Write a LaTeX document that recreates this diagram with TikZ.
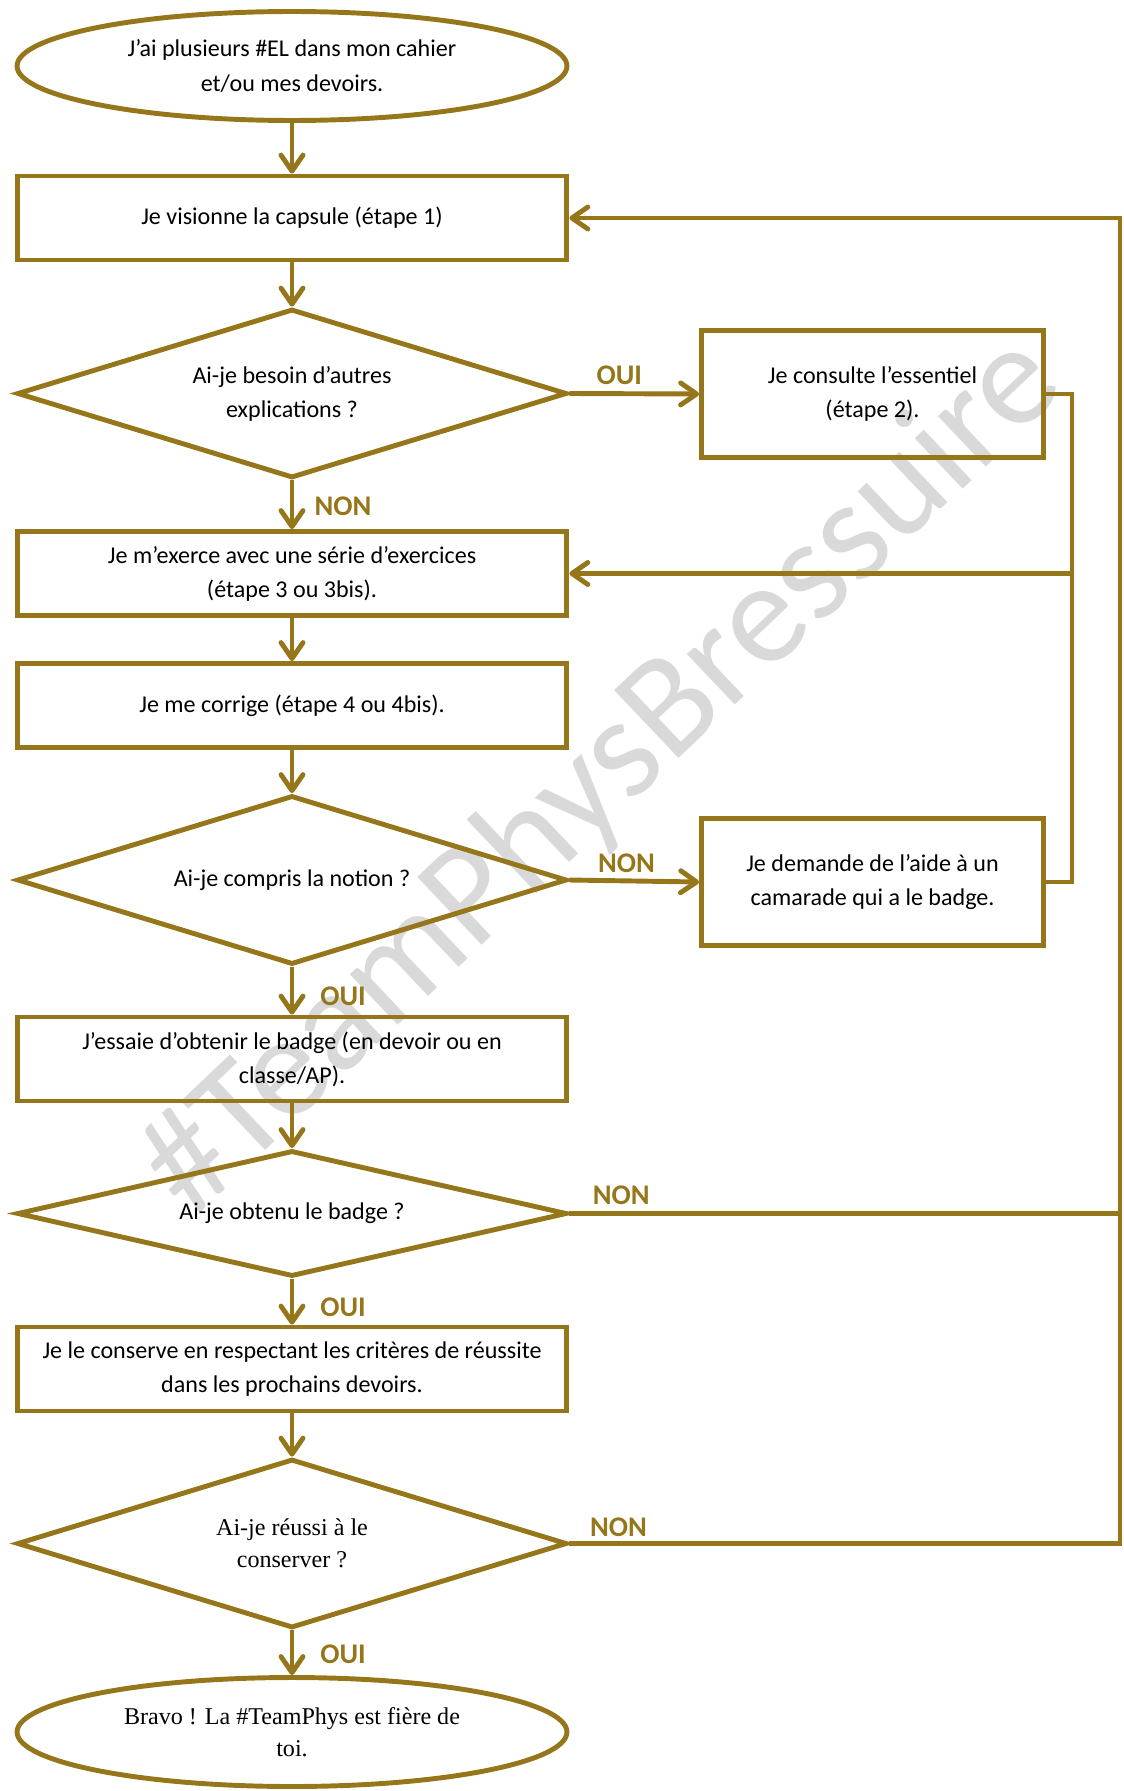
\documentclass[tikz,border=0pt]{standalone}
\usepackage{fontspec}
\setmainfont{Carlito}
\newfontfamily\timesfont{Liberation Serif}
\usetikzlibrary{arrows.meta,shapes.geometric}
\definecolor{bronze}{RGB}{150,118,26}

\begin{document}
\begin{tikzpicture}[
				x=0.02cm, y=-0.02cm,
				every node/.style={font=\fontsize{13.7}{19.4}\selectfont, align=center, inner sep=0pt},
				box/.style={draw=bronze, line width=2.8pt, rectangle, minimum width=11cm, minimum height=1.68cm},
				sidebox/.style={box, minimum width=6.84cm, minimum height=2.54cm},
				oval/.style={draw=bronze, line width=2.8pt, ellipse, minimum width=11cm, minimum height=2.18cm},
				query/.style={draw=bronze, line width=2.8pt, diamond, shape aspect=3.2, minimum width=11cm, minimum height=3.38cm},
				link/.style={draw=bronze, line width=2.8pt},
				flow/.style={link, -{Straight Barb[length=3.2mm,width=4.4mm,round]}},
				answer/.style={font=\fontsize{16.2}{19}\selectfont\bfseries, text=bronze}
				]
				
				\useasboundingbox (0,0) rectangle (1123,1791);
				
				% Watermark
				\node[rotate=43.5, text=black!15, font=\fontsize{83}{83}\selectfont] (mark) at (603,777) {\#TeamPhysBressuire};
				
				% Main column
				\node[oval] (start) at (292,66) {J’ai plusieurs \#EL dans mon cahier\\et/ou mes devoirs.};
				\node[box] (capsule) at (292,218) {Je visionne la capsule (étape 1)};
				\node[query] (besoin) at (292,393.5) {Ai-je besoin d’autres\\explications ?};
				\node[box] (exerce) at (292,573.5) {Je m’exerce avec une série d’exercices\\(étape 3 ou 3bis).};
				\node[box] (corrige) at (292,705.5) {Je me corrige (étape 4 ou 4bis).};
				\node[query] (compris) at (292,880) {Ai-je compris la notion ?};
				\node[box] (essaie) at (292,1059) {J’essaie d’obtenir le badge (en devoir ou en\\classe/AP).};
				\node[query, shape aspect=4.3, minimum height=2.52cm] (obtenu) at (292,1213.5) {Ai-je obtenu le badge ?};
				\node[box] (conserve) at (292,1369) {Je le conserve en respectant les critères de réussite\\dans les prochains devoirs.};
				\node[query, font=\timesfont\fontsize{13.7}{18.2}\selectfont] (reussi) at (292,1543.5) {Ai-je réussi à le\\conserver ?};
				\node[oval, font=\timesfont\fontsize{13.7}{18.2}\selectfont] (bravo) at (292,1732) {Bravo ! La \#TeamPhys est fière de\\toi.};
				
				% Side boxes
				\node[sidebox] (essentiel) at (872.5,394) {Je consulte l’essentiel\\(étape 2).};
				\node[sidebox] (aide) at (872.5,882) {Je demande de l’aide à un\\camarade qui a le badge.};
				
				\coordinate (merge) at (1072,573.5);
				\coordinate (rail) at (1120,218);
				
				% Straight arrows
				\foreach \a/\b in {start/capsule, capsule/besoin, exerce/corrige,
					corrige/compris, essaie/obtenu, conserve/reussi}
				{
					\draw[flow] (\a) -- (\b);
				}
				
				% Answers below
				\draw[flow] (besoin) -- node[answer, xshift=1.02cm, pos=0.54] {NON} (exerce);
				\draw[flow] (compris) -- node[answer, xshift=1.02cm, pos=0.62] {OUI} (essaie);
				\draw[flow] (obtenu) -- node[answer, xshift=1.02cm, pos=0.62] {OUI} (conserve);
				\draw[flow] (reussi) -- node[answer, xshift=1.02cm, pos=0.54] {OUI} (bravo);
				
				% Answers to the right
				\draw[flow] (besoin.east) -- node[answer, pos=0.385, yshift=0.37cm] {OUI} (essentiel.west);
				\draw[flow] (compris.east) -- node[answer, pos=0.44, yshift=0.36cm] {NON} (aide.west);
				
				% Loops back
				\draw[flow] (essentiel.east) -| (merge) -- (exerce.east);
				\draw[link] (aide.east) -| (merge);
				\draw[link] (obtenu.east) -- node[answer, pos=0.094, yshift=0.36cm] {NON} (obtenu.east -| rail);
				\draw[flow] (reussi.east) -- node[answer, pos=0.089, yshift=0.32cm] {NON} (reussi.east -| rail) -- (rail) -- (capsule.east);
				
			\end{tikzpicture}
\end{document}
